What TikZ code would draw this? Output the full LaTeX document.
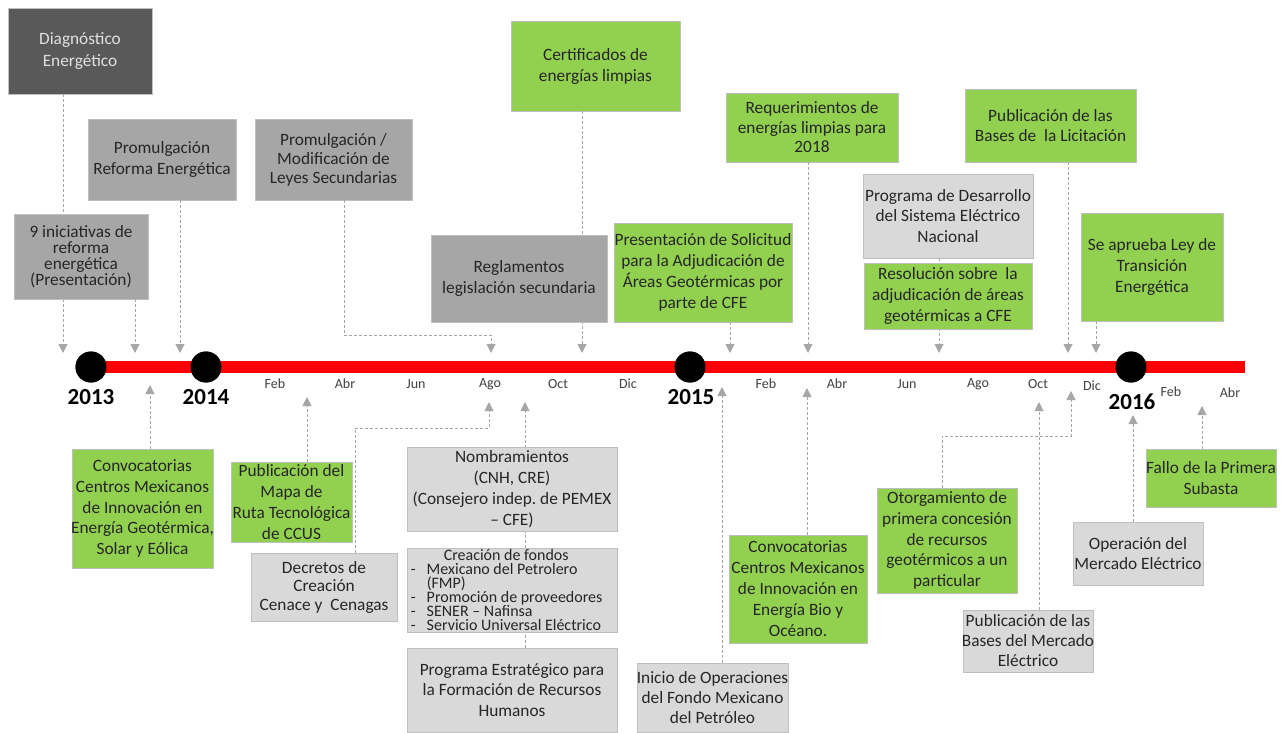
\documentclass[tikz,border=0pt]{standalone}
\usepackage{fontspec}
\setmainfont{Carlito}
\usetikzlibrary{arrows.meta}

\definecolor{gfill}{HTML}{92D050}
\definecolor{lfill}{HTML}{D9D9D9}
\definecolor{mfill}{HTML}{A6A6A6}
\definecolor{dfill}{HTML}{595959}
\definecolor{edge}{HTML}{BFBFBF}
\definecolor{connc}{HTML}{A6A6A6}
\definecolor{ink}{HTML}{262626}
\definecolor{monthc}{HTML}{404040}
\definecolor{barred}{HTML}{FF0000}

\tikzset{
  boxbase/.style={rectangle, draw=edge, line width=0.9pt, inner sep=0pt},
  gbox/.style={boxbase, fill=gfill},
  lbox/.style={boxbase, fill=lfill},
  mbox/.style={boxbase, fill=mfill},
  dbox/.style={boxbase, fill=dfill},
  txt/.style={align=center, inner sep=0pt, text=ink, font=\fontsize{17.3}{20.8}\selectfont},
  link/.style={draw=connc, line width=1pt, dash pattern=on 3pt off 2pt,
    -{Triangle[width=9pt,length=9pt]}},
  dot/.style={circle, fill=black, inner sep=0pt, minimum size=31pt},
  yearlbl/.style={inner sep=0pt, font=\fontsize{23}{23}\selectfont\bfseries},
  monthlbl/.style={inner sep=0pt, text=monthc, font=\fontsize{14}{14}\selectfont},
}

\begin{document}
\frenchspacing
\begin{tikzpicture}[x=1pt,y=-1pt]
\useasboundingbox (0,0) rectangle (1286,733);

% ---------- arrow tips on the time line ----------
\coordinate (a1) at (63,353);
\coordinate (a2) at (135,353);
\coordinate (a3) at (180,353);
\coordinate (a4) at (491,353);
\coordinate (a5) at (582,353);
\coordinate (a6) at (730,353);
\coordinate (a7) at (808,353);
\coordinate (a8) at (939,353);
\coordinate (a9) at (1068,353);
\coordinate (a10) at (1096,353);

\coordinate (b1) at (150,385);
\coordinate (b2) at (307,397);
\coordinate (b3) at (489,402);
\coordinate (b4) at (525,402);
\coordinate (b5) at (722,387);
\coordinate (b6) at (807,388);
\coordinate (b7) at (1071,391);
\coordinate (b8) at (1039,402);
\coordinate (b9) at (1133,415);
\coordinate (b10) at (1202,406);

% bends of the elbow connectors
\coordinate (k1) at (344,335);
\coordinate (k2) at (355,428);
\coordinate (k3) at (942,436);

% ---------- upper events ----------
\node[dbox, minimum width=144, minimum height=86,
  label={[txt, text=white!88!black, font=\fontsize{17.3}{22}\selectfont]center:{Diagnóstico\\Energético}}] (diag) at (80,51) {};
\node[mbox, minimum width=148, minimum height=81,
  label={[txt]center:{Promulgación\\Reforma Energética}}] (promref) at (162,159.5) {};
\node[mbox, minimum width=157, minimum height=81,
  label={[txt, font=\fontsize{17.3}{19}\selectfont]center:{Promulgación /\\Modificación de\\Leyes Secundarias}}] (leyes) at (333.5,159.5) {};
\node[gbox, minimum width=169, minimum height=90,
  label={[txt, font=\fontsize{17.3}{21}\selectfont]center:{Certificados de\\energías limpias}}] (cert) at (595.5,66) {};
\node[gbox, minimum width=172, minimum height=69,
  label={[txt, font=\fontsize{17.3}{19.5}\selectfont]center:{Requerimientos de\\energías limpias para\\2018}}] (req) at (812,127.5) {};
\node[gbox, minimum width=171, minimum height=73,
  label={[txt]center:{Publicación de las\\Bases de\ \ la Licitación}}] (lic) at (1050.5,125.5) {};
\node[lbox, minimum width=170, minimum height=84,
  label={[txt]center:{Programa de Desarrollo\\del Sistema Eléctrico\\Nacional}}] (pdes) at (948,216) {};
\node[gbox, minimum width=142, minimum height=108,
  label={[txt]center:{Se aprueba Ley de\\Transición\\Energética}}] (ley) at (1152,267) {};

% connectors drawn before the boxes they pass behind
\draw[link] (a1 |- diag.south) -- (a1);
\draw[link] (a5 |- cert.south) -- (a5);
\draw[link] (a8 |- pdes.south) -- (a8);

\node[mbox, minimum width=134, minimum height=85,
  label={[txt, font=\fontsize{17.3}{16}\selectfont]center:{9 iniciativas de\\reforma\\energética\\(Presentación)}}] (inic) at (81,256.5) {};
\node[mbox, minimum width=176, minimum height=87,
  label={[txt]center:{Reglamentos\\legislación secundaria}}] (regl) at (519,278.5) {};
\node[gbox, minimum width=178, minimum height=99,
  label={[txt, font=\fontsize{17.3}{21}\selectfont]center:{Presentación de Solicitud\\para la Adjudicación de\\Áreas Geotérmicas por\\parte de CFE}}] (pres) at (703,272.5) {};
\node[gbox, minimum width=168, minimum height=66,
  label={[txt]center:{Resolución sobre\ \ la\\adjudicación de áreas\\geotérmicas a CFE}}] (resol) at (948,296) {};

\draw[link] (a2 |- inic.south) -- (a2);
\draw[link] (a3 |- promref.south) -- (a3);
\draw[link] (k1 |- leyes.south) -- (k1) -| (a4);
\draw[link] (a6 |- pres.south) -- (a6);
\draw[link] (a7 |- req.south) -- (a7);
\draw[link] (a9 |- lic.south) -- (a9);
\draw[link] (a10 |- ley.south) -- (a10);

% ---------- lower events ----------
\node[lbox, minimum width=210, minimum height=84,
  label={[txt]center:{Programa Estratégico para\\la Formación de Recursos\\Humanos}}] (prog) at (512,690) {};
\draw[link] (b4 |- prog.north) -- (b4);

\node[gbox, minimum width=141, minimum height=119,
  label={[txt]center:{Convocatorias\\Centros Mexicanos\\de Innovación en\\Energía Geotérmica,\\Solar y Eólica}}] (conv1) at (142.5,508.5) {};
\node[gbox, minimum width=121, minimum height=80,
  label={[txt]center:{Publicación del\\Mapa de\\Ruta Tecnológica\\de CCUS}}] (mapa) at (291.5,502) {};
\node[lbox, minimum width=146, minimum height=68,
  label={[txt, font=\fontsize{17.3}{18.5}\selectfont]center:{Decretos de\\Creación\\Cenace y\ \ Cenagas}}] (decr) at (324,587) {};
\node[lbox, minimum width=210, minimum height=84,
  label={[txt, font=\fontsize{17.3}{21}\selectfont]center:{Nombramientos\\(CNH, CRE)\\(Consejero indep. de PEMEX\\– CFE)}}] (nomb) at (512,489) {};
\node[lbox, minimum width=210, minimum height=84] (fond) at (512,590) {};
\node[txt, align=left, anchor=west, font=\fontsize{16}{14}\selectfont] (fondt) at ([xshift=4pt]fond.west)
  {\hspace*{33pt}Creación de fondos\\
   \makebox[16pt][l]{-}Mexicano del Petrolero\\
   \hspace*{16pt}(FMP)\\
   \makebox[16pt][l]{-}Promoción de proveedores\\
   \makebox[16pt][l]{-}SENER – Nafinsa\\
   \makebox[16pt][l]{-}Servicio Universal Eléctrico};
\node[lbox, minimum width=151, minimum height=69,
  label={[txt, font=\fontsize{17.3}{20}\selectfont]center:{Inicio de Operaciones\\del Fondo Mexicano\\del Petróleo}}] (inicio) at (712.5,697.5) {};
\node[gbox, minimum width=138, minimum height=108,
  label={[txt, font=\fontsize{17.3}{21}\selectfont]center:{Convocatorias\\Centros Mexicanos\\de Innovación en\\Energía Bio y\\Océano.}}] (conv2) at (798,589) {};
\node[gbox, minimum width=140, minimum height=105,
  label={[txt]center:{Otorgamiento de\\primera concesión\\de recursos\\geotérmicos a un\\particular}}] (otorg) at (947,540.5) {};
\node[lbox, minimum width=130, minimum height=62,
  label={[txt, font=\fontsize{17.3}{20}\selectfont]center:{Publicación de las\\Bases del Mercado\\Eléctrico}}] (pubm) at (1028,641) {};
\node[lbox, minimum width=130, minimum height=63,
  label={[txt]center:{Operación del\\Mercado Eléctrico}}] (oper) at (1138,553.5) {};
\node[gbox, minimum width=130, minimum height=58,
  label={[txt]center:{Fallo de la Primera\\Subasta}}] (fallo) at (1211,478) {};

\draw[link] (b1 |- conv1.north) -- (b1);
\draw[link] (b2 |- mapa.north) -- (b2);
\draw[link] (k2 |- decr.north) -- (k2) -| (b3);
\draw[link] (b5 |- inicio.north) -- (b5);
\draw[link] (b6 |- conv2.north) -- (b6);
\draw[link] (k3 |- otorg.north) -- (k3) -| (b7);
\draw[link] (b8 |- pubm.north) -- (b8);
\draw[link] (b9 |- oper.north) -- (b9);
\draw[link] (b10 |- fallo.north) -- (b10);

% ---------- time line ----------
\coordinate (lineend) at (1245,367);
\node[dot] (y2013) at (91,367) {};
\node[dot] (y2014) at (206,367) {};
\node[dot] (y2015) at (690,367) {};
\node[dot] (y2016) at (1131,367) {};
\draw[barred, line width=12pt] (y2013.center) -- (lineend);
\node[dot] at (y2013) {};
\node[dot] at (y2014) {};
\node[dot] at (y2015) {};
\node[dot] at (y2016) {};

\node[yearlbl] (l2013) at (91,397) {2013};
\node[yearlbl] (l2014) at (206,397) {2014};
\node[yearlbl] (l2015) at (691,397) {2015};
\node[yearlbl] (l2016) at (1132,402) {2016};

\node[monthlbl] (m1) at (275,384) {Feb};
\node[monthlbl] (m2) at (345,384) {Abr};
\node[monthlbl] (m3) at (416,384) {Jun};
\node[monthlbl] (m4) at (490,384) {Ago};
\node[monthlbl] (m5) at (558,384) {Oct};
\node[monthlbl] (m6) at (628,384) {Dic};
\node[monthlbl] (m7) at (766,384) {Feb};
\node[monthlbl] (m8) at (837,384) {Abr};
\node[monthlbl] (m9) at (907,384) {Jun};
\node[monthlbl] (m10) at (978,384) {Ago};
\node[monthlbl] (m11) at (1038,384) {Oct};
\node[monthlbl] (m12) at (1092,386) {Dic};
\node[monthlbl] (m13) at (1171,392) {Feb};
\node[monthlbl] (m14) at (1230,393) {Abr};
\end{tikzpicture}
\end{document}
